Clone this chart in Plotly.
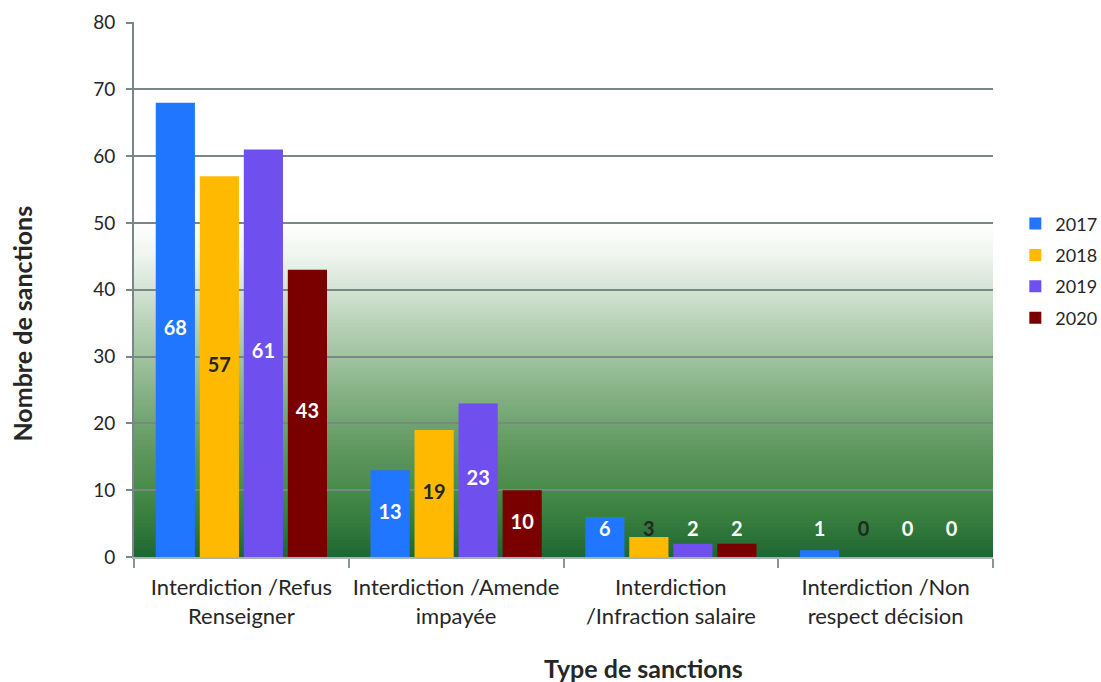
import plotly.graph_objects as go
import numpy as np

categories = ["Interdiction /Refus<br>Renseigner", "Interdiction /Amende<br>impayée",
              "Interdiction<br>/Infraction salaire", "Interdiction /Non<br>respect décision"]
years = ["2017", "2018", "2019", "2020"]
values_2017 = [68, 13, 6, 1]
values_2018 = [57, 19, 3, 0]
values_2019 = [61, 23, 2, 0]
values_2020 = [43, 10, 2, 0]
series = [values_2017, values_2018, values_2019, values_2020]
bar_colors = ["#2176FF", "#FFBA00", "#6F4FEE", "#7A0000"]
label_colors = ["#FFFFFF", "#262626", "#FFFFFF", "#FFFFFF"]
y_ticks = [0, 10, 20, 30, 40, 50, 60, 70, 80]
x_title = "Type de sanctions"
y_title = "Nombre de sanctions"

FONT = "Lato"
fig = go.Figure()

for yr, vals, c in zip(years, series, bar_colors):
    fig.add_trace(go.Bar(x=categories, y=vals, name=yr, marker=dict(color=c, line=dict(width=0)),
                         offsetgroup=yr, legendgroup=yr, hoverinfo="skip"))

for yr, vals, lc in zip(years, series, label_colors):
    ypos = [max(v / 2, 3.9) for v in vals]
    fig.add_trace(go.Scatter(x=categories, y=ypos, mode="text", text=[str(v) for v in vals],
                             textfont=dict(family=FONT, size=20, color=lc, weight="bold"),
                             offsetgroup=yr, legendgroup=yr, showlegend=False, hoverinfo="skip"))

# gradient background (white at 50 -> dark green at 0)
stops_v = [50, 45, 40, 35, 30, 25, 20, 15, 10, 5, 0]
stops_c = ["#FFFFFF", "#EEF4EE", "#D3E3D3", "#B8D2B8", "#A0C3A0", "#88B388", "#70A370",
           "#5B955B", "#488A4A", "#347B3C", "#1E6632"]
rgb = np.array([[int(s[i:i + 2], 16) for i in (1, 3, 5)] for s in stops_c])
sv = np.array(stops_v[::-1], dtype=float)
rgb_r = rgb[::-1]
shapes = []
n = 100
edges = np.linspace(0, 50, n + 1)
step = edges[1] - edges[0]
for k in range(n):
    mid = (edges[k] + edges[k + 1]) / 2
    col = [int(round(np.interp(mid, sv, rgb_r[:, j]))) for j in range(3)]
    top = min(edges[k + 1] + step, 50)
    shapes.append(dict(type="rect", xref="paper", yref="y", x0=0, x1=1, y0=edges[k], y1=top,
                       fillcolor=f"rgb({col[0]},{col[1]},{col[2]})", line=dict(width=0), layer="below"))

annotations = [
    dict(text=f"<b>{x_title}</b>", xref="paper", yref="paper", x=0.593, y=-0.2075,
         xanchor="center", yanchor="middle", showarrow=False,
         font=dict(family=FONT, size=25, color="#262626")),
    dict(text=f"<b>{y_title}</b>", xref="paper", yref="paper", x=-0.13, y=0.437,
         xanchor="center", yanchor="middle", showarrow=False, textangle=-90,
         font=dict(family=FONT, size=25, color="#262626")),
]

fig.update_layout(
    width=1101, height=682,
    margin=dict(l=134, r=108, t=22, b=125, autoexpand=False),
    paper_bgcolor="white", plot_bgcolor="rgba(0,0,0,0)",
    barmode="group", bargap=0.18, bargroupgap=0.11,
    scattermode="group", scattergap=0.18,
    shapes=shapes, annotations=annotations,
    font=dict(family=FONT, color="#262626"),
    legend=dict(x=1.026, xanchor="left", y=0.535, yanchor="middle",
                font=dict(family=FONT, size=18, color="#262626"),
                itemwidth=30, tracegroupgap=5, traceorder="grouped", bgcolor="rgba(0,0,0,0)"),
    xaxis=dict(tickson="boundaries", ticks="outside", ticklen=9, tickcolor="#8A9696", tickwidth=2,
               showline=True, linecolor="#A9B2B2", linewidth=2, tickangle=0,
               tickfont=dict(family=FONT, size=22, color="#262626"), ticklabelstandoff=10,
               showgrid=False),
    yaxis=dict(range=[0, 80.1], tickvals=y_ticks, ticks="outside", ticklen=6, tickcolor="#7A8787",
               tickwidth=2, showline=True, linecolor="#7A8787", linewidth=2,
               showgrid=True, gridcolor="#7A8787", gridwidth=2, zeroline=False,
               tickfont=dict(family=FONT, size=19, color="#262626"), ticklabelstandoff=7),
)

fig.write_html("out.html")
